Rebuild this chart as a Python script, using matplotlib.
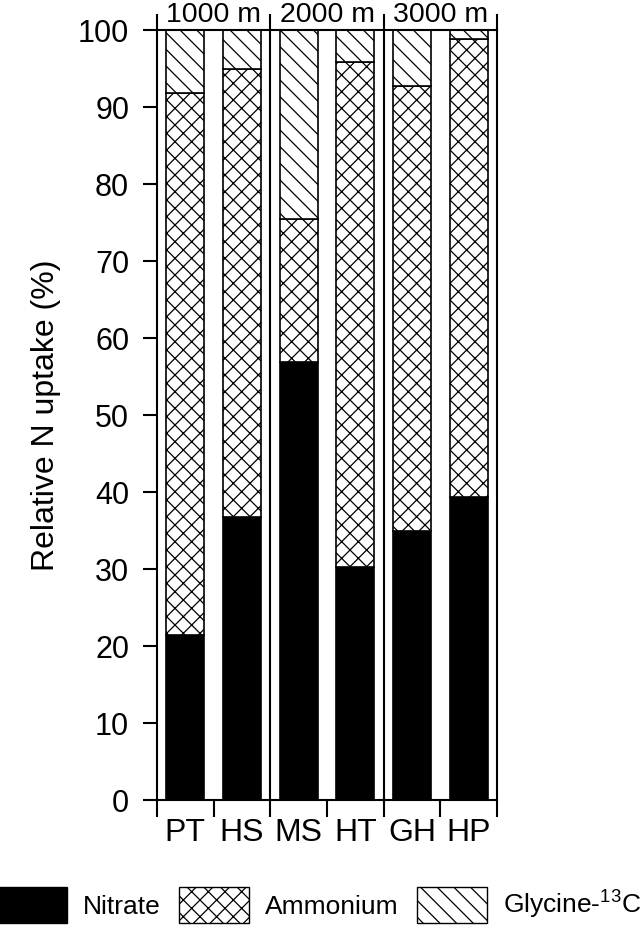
import matplotlib
matplotlib.use("Agg")
import matplotlib.pyplot as plt
import matplotlib.patches as mpatches

plt.rcParams['font.family'] = ['Liberation Sans', 'DejaVu Sans']
plt.rcParams['hatch.linewidth'] = 0.9

# data (relative N uptake, %)
sites = ['PT', 'HS', 'MS', 'HT', 'GH', 'HP']
nitrate = [21.4, 36.7, 56.9, 30.3, 35.0, 39.3]
ammonium = [70.4, 58.3, 18.6, 65.6, 57.7, 59.6]
glycine = [8.2, 5.0, 24.5, 4.1, 7.3, 1.1]
depths = ['1000 m', '2000 m', '3000 m']

fig = plt.figure(figsize=(6.44, 9.39), dpi=100)
ax = fig.add_axes([0.2438, 0.148, 0.528, 0.820])

x = list(range(len(sites)))
bw = 0.67
bottom2 = [a + b for a, b in zip(nitrate, ammonium)]

ax.bar(x, nitrate, bw, color='black', edgecolor='black', linewidth=1.2)
ax.bar(x, ammonium, bw, bottom=nitrate, color='white', edgecolor='black',
       hatch='xx', linewidth=1.2)
ax.bar(x, glycine, bw, bottom=bottom2, color='white', edgecolor='black',
       hatch='\\\\', linewidth=1.2)

ax.set_xlim(-0.5, len(sites) - 0.5)
ax.set_ylim(0, 100)

# group separators + top ticks
for xs in [-0.5, 1.5, 3.5, 5.5]:
    ax.plot([xs, xs], [0 if xs in (1.5, 3.5) else 100, 102], color='black',
            linewidth=1.5, clip_on=False, zorder=5)
for i, d in enumerate(depths):
    ax.text(2 * i + 0.5, 102.0, d, ha='center', va='center', fontsize=20.5)

ax.set_yticks(range(0, 101, 10))
ax.tick_params(axis='y', direction='out', length=10, width=1.5, labelsize=22, pad=10)
ax.set_xticks([i - 0.5 for i in range(len(sites) + 1)])
ax.set_xticklabels([])
ax.tick_params(axis='x', which='major', direction='out', length=12, width=1.5)
ax.set_xticks(x, minor=True)
ax.set_xticklabels(sites, minor=True)
ax.tick_params(axis='x', which='minor', length=0, labelsize=23, pad=13)

for s in ax.spines.values():
    s.set_linewidth(1.5)

ax.set_ylabel('Relative N uptake (%)', fontsize=23, labelpad=12)

handles = [
    mpatches.Patch(facecolor='black', edgecolor='black', label='Nitrate'),
    mpatches.Patch(facecolor='white', edgecolor='black', hatch='xx', label='Ammonium'),
    mpatches.Patch(facecolor='white', edgecolor='black', hatch='\\\\',
                   label='Glycine-$\\mathregular{^{13}}$C'),
]
fig.legend(handles=handles, loc='center', bbox_to_anchor=(0.496, 0.036), ncol=3,
           frameon=False, fontsize=19, handlelength=2.65, handleheight=1.7,
           handletextpad=0.6, columnspacing=0.7, borderaxespad=0, borderpad=0)

fig.savefig('out.png', dpi=100)
